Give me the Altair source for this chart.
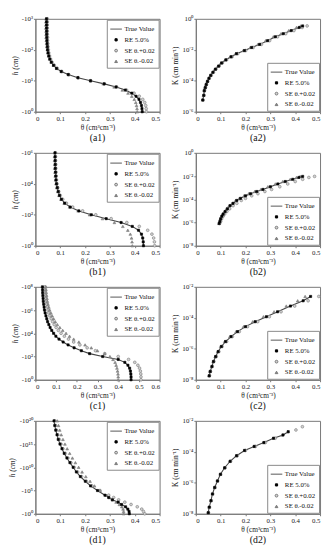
import altair as alt
import pandas as pd

TV = "True Value"
RE = "RE 5.0%"
SEP = "SE θᵣ+0.02"
SEM = "SE θᵣ-0.02"
SERIES = [TV, RE, SEP, SEM]
SHAPES = ["stroke", "square", "circle", "triangle-up"]
FILLS = ["#555555", "#000000", "#d2d2d2", "#8e8e8e"]
STROKES = ["#555555", "#000000", "#7a7a7a", "#7a7a7a"]
SIZES = [140, 5, 8, 8]

# ---------------- (a1) log10|h| levels and theta ----------------
a1_logh = [0, 0.1, 0.2, 0.3, 0.4, 0.5, 0.6, 0.7, 0.8, 0.9, 1.0, 1.1, 1.2, 1.3, 1.4, 1.5,
           1.6, 1.7, 1.8, 1.9, 2.0, 2.1, 2.2, 2.3, 2.4, 2.5, 2.6, 2.7, 2.8, 2.9, 3.0]
a1_true = [0.430, 0.429, 0.427, 0.423, 0.417, 0.405, 0.388, 0.362, 0.325, 0.277, 0.222, 0.171,
           0.132, 0.104, 0.085, 0.073, 0.064, 0.058, 0.054, 0.051, 0.049, 0.048, 0.047, 0.0465,
           0.046, 0.0457, 0.0455, 0.0453, 0.0452, 0.0451, 0.045]
a1_sep = [0.447, 0.446, 0.444, 0.44, 0.432, 0.418, 0.397, 0.367, 0.327, 0.277, 0.222, 0.172,
          0.134, 0.106, 0.088, 0.076, 0.067, 0.061, 0.057, 0.054, 0.052, 0.051, 0.05, 0.049,
          0.049, 0.048, 0.048, 0.048, 0.048, 0.048, 0.048]
a1_sem = [0.41, 0.409, 0.407, 0.404, 0.398, 0.388, 0.373, 0.35, 0.317, 0.273, 0.222, 0.173,
          0.135, 0.105, 0.086, 0.073, 0.064, 0.058, 0.053, 0.05, 0.048, 0.046, 0.045, 0.044,
          0.043, 0.043, 0.043, 0.042, 0.042, 0.042, 0.042]

# ---------------- (a2) theta and log10 K ----------------
a2_theta = [0.028, 0.032, 0.034, 0.038, 0.042, 0.047, 0.053, 0.06, 0.069, 0.079, 0.092, 0.104,
            0.121, 0.142, 0.164, 0.196, 0.225, 0.257, 0.289, 0.32, 0.352, 0.384, 0.416, 0.43]
a2_logk = [-5.24, -4.94, -4.64, -4.44, -4.24, -4.04, -3.84, -3.65, -3.45, -3.25, -3.05, -2.85,
           -2.65, -2.45, -2.25, -2.05, -1.85, -1.65, -1.41, -1.16, -0.96, -0.76, -0.56, -0.46]
a2_sep = [0.029, 0.033, 0.035, 0.039, 0.043, 0.048, 0.054, 0.062, 0.071, 0.081, 0.094, 0.107,
          0.124, 0.146, 0.169, 0.201, 0.231, 0.264, 0.297, 0.329, 0.362, 0.395, 0.428, 0.448]
a2_sem = [0.028, 0.031, 0.034, 0.037, 0.041, 0.046, 0.052, 0.059, 0.067, 0.077, 0.089, 0.101,
          0.118, 0.138, 0.16, 0.191, 0.219, 0.25, 0.281, 0.312, 0.343, 0.374, 0.405, 0.422]

# ---------------- (b1) ----------------
b1_logh = [0, 0.25, 0.5, 0.75, 1.0, 1.25, 1.5, 1.75, 2.0, 2.25, 2.5, 2.75, 3.0, 3.25, 3.5,
           3.75, 4.0, 4.25, 4.5, 4.75, 5.0, 5.25, 5.5, 5.75, 6.0]
b1_true = [0.435, 0.434, 0.432, 0.427, 0.415, 0.39, 0.345, 0.285, 0.225, 0.175, 0.14, 0.118,
           0.105, 0.097, 0.092, 0.088, 0.085, 0.083, 0.082, 0.081, 0.080, 0.0798, 0.0795,
           0.0792, 0.079]
b1_sep = [0.48, 0.479, 0.476, 0.469, 0.452, 0.418, 0.368, 0.305, 0.243, 0.19, 0.15, 0.125,
          0.11, 0.1, 0.094, 0.09, 0.087, 0.085, 0.084, 0.083, 0.082, 0.082, 0.081, 0.081, 0.081]
b1_sem = [0.39, 0.389, 0.387, 0.382, 0.372, 0.352, 0.318, 0.27, 0.218, 0.172, 0.138, 0.116,
          0.103, 0.095, 0.09, 0.086, 0.083, 0.081, 0.08, 0.079, 0.078, 0.078, 0.077, 0.077, 0.077]

# ---------------- (b2) ----------------
b2_theta = [0.094, 0.097, 0.1, 0.105, 0.11, 0.118, 0.127, 0.138, 0.15, 0.165, 0.18, 0.2, 0.22,
            0.245, 0.27, 0.3, 0.33, 0.36, 0.39, 0.415, 0.43]
b2_logk = [-6.08, -5.9, -5.68, -5.45, -5.27, -5.05, -4.82, -4.55, -4.35, -4.1, -3.92, -3.7,
           -3.52, -3.33, -3.15, -2.92, -2.68, -2.47, -2.28, -2.12, -2.03]
b2_sep = [0.096, 0.1, 0.104, 0.11, 0.116, 0.125, 0.136, 0.15, 0.165, 0.183, 0.2, 0.225, 0.25,
          0.278, 0.305, 0.338, 0.37, 0.4, 0.43, 0.455, 0.478]
b2_sem = [0.093, 0.096, 0.099, 0.103, 0.108, 0.115, 0.124, 0.134, 0.146, 0.16, 0.175, 0.194,
          0.213, 0.237, 0.262, 0.29, 0.32, 0.35, 0.38, 0.405, 0.42]

# ---------------- (c1) ----------------
c1_logh = [0, 0.25, 0.5, 0.75, 1.0, 1.25, 1.5, 1.75, 2.0, 2.25, 2.5, 2.75, 3.0, 3.25, 3.5,
           3.75, 4.0, 4.25, 4.5, 4.75, 5.0, 5.25, 5.5, 5.75, 6.0, 6.25, 6.5, 6.75, 7.0, 7.25,
           7.5, 7.75, 8.0]
c1_true = [0.462, 0.462, 0.461, 0.459, 0.455, 0.447, 0.432, 0.40, 0.325, 0.262, 0.222, 0.187,
           0.158, 0.134, 0.114, 0.099, 0.088, 0.079, 0.071, 0.065, 0.059, 0.055, 0.051, 0.047,
           0.044, 0.042, 0.040, 0.038, 0.037, 0.036, 0.035, 0.0345, 0.034]
c1_sep = [0.51, 0.51, 0.509, 0.507, 0.503, 0.495, 0.48, 0.45, 0.40, 0.335, 0.29, 0.25, 0.215,
          0.185, 0.16, 0.14, 0.124, 0.111, 0.1, 0.091, 0.083, 0.076, 0.07, 0.065, 0.061, 0.058,
          0.055, 0.053, 0.051, 0.05, 0.049, 0.048, 0.047]
c1_sem = [0.40, 0.40, 0.399, 0.397, 0.394, 0.39, 0.385, 0.375, 0.36, 0.335, 0.30, 0.27, 0.24,
          0.21, 0.185, 0.165, 0.148, 0.132, 0.118, 0.106, 0.096, 0.088, 0.081, 0.075, 0.069,
          0.065, 0.061, 0.058, 0.056, 0.054, 0.052, 0.051, 0.05]

# ---------------- (c2) ----------------
c2_theta = [0.054, 0.058, 0.065, 0.071, 0.08, 0.09, 0.103, 0.12, 0.142, 0.168, 0.2, 0.239,
            0.284, 0.329, 0.381, 0.432, 0.462]
c2_logk = [-7.74, -7.46, -7.14, -6.82, -6.5, -6.18, -5.85, -5.53, -5.21, -4.89, -4.57, -4.25,
           -3.93, -3.61, -3.24, -2.9, -2.62]
c2_sep = [0.055, 0.059, 0.066, 0.073, 0.082, 0.093, 0.106, 0.124, 0.147, 0.175, 0.208, 0.249,
          0.296, 0.343, 0.398, 0.452, 0.495]
c2_sem = [0.053, 0.057, 0.064, 0.07, 0.078, 0.088, 0.1, 0.116, 0.137, 0.162, 0.192, 0.229,
          0.272, 0.315, 0.364, 0.41, 0.44]

# ---------------- (d1) ----------------
d1_logh = [0, 0.5, 1, 1.5, 2, 2.5, 3, 3.5, 4, 5, 6, 7, 8, 9, 10, 11, 12, 13, 14, 15, 16, 17,
           18, 19, 20]
d1_true = [0.378, 0.377, 0.372, 0.363, 0.347, 0.333, 0.31, 0.295, 0.28, 0.25, 0.222, 0.201,
           0.181, 0.165, 0.152, 0.139, 0.127, 0.116, 0.107, 0.099, 0.092, 0.087, 0.082, 0.078,
           0.075]
d1_sep = [0.44, 0.435, 0.428, 0.41, 0.385, 0.36, 0.335, 0.315, 0.295, 0.26, 0.228, 0.205,
          0.186, 0.17, 0.156, 0.143, 0.131, 0.12, 0.111, 0.103, 0.096, 0.09, 0.085, 0.081, 0.078]
d1_sem = [0.355, 0.355, 0.353, 0.348, 0.338, 0.325, 0.31, 0.298, 0.285, 0.26, 0.238, 0.22,
          0.203, 0.188, 0.174, 0.161, 0.149, 0.138, 0.128, 0.119, 0.111, 0.104, 0.098, 0.093,
          0.088]

# ---------------- (d2) ----------------
d2_theta = [0.05, 0.054, 0.061, 0.067, 0.076, 0.087, 0.099, 0.116, 0.138, 0.164, 0.196, 0.235,
            0.274, 0.313, 0.351, 0.372]
d2_logk = [-7.93, -7.57, -7.15, -6.72, -6.3, -5.88, -5.45, -5.03, -4.61, -4.25, -3.91, -3.65,
           -3.4, -3.12, -2.91, -2.7]
d2_sep = [0.051, 0.055, 0.062, 0.068, 0.077, 0.088, 0.1, 0.118, 0.14, 0.167, 0.2, 0.24, 0.28,
          0.32, 0.403, 0.429]
d2_sep_logk = [-7.93, -7.57, -7.15, -6.72, -6.3, -5.88, -5.45, -5.03, -4.61, -4.25, -3.91,
               -3.65, -3.4, -3.12, -2.59, -2.38]
d2_sem = [0.05, 0.054, 0.061, 0.067, 0.076, 0.087, 0.099, 0.116, 0.137, 0.163, 0.195, 0.233,
          0.272, 0.31, 0.348, 0.37]

# ---------------- helpers ----------------
SUP = [("-", "⁻"), ("0", "⁰"), ("1", "¹"), ("2", "²"), ("3", "³"), ("4", "⁴"),
       ("5", "⁵"), ("6", "⁶"), ("7", "⁷"), ("8", "⁸"), ("9", "⁹")]
sup = "toString(datum.value)"
for a, b in SUP:
    sup = f"replace({sup},'{a}','{b}')"
NEG_LABEL = "'-10' + " + sup
POS_LABEL = "'10' + " + sup

W, H = 127, 95
XTITLE = "θ (cm³cm⁻³)"


def legend_channels(orient):
    leg = alt.Legend(orient=orient, title=None)
    return dict(
        shape=alt.Shape("series:N", scale=alt.Scale(domain=SERIES, range=SHAPES), legend=leg),
        fill=alt.Fill("series:N", scale=alt.Scale(domain=SERIES, range=FILLS), legend=leg),
        stroke=alt.Stroke("series:N", scale=alt.Scale(domain=SERIES, range=STROKES), legend=leg),
        size=alt.Size("series:N", scale=alt.Scale(type="ordinal", domain=SERIES, range=SIZES),
                      legend=leg),
    )


def xenc(xmax):
    vals = [round(i * 0.1, 1) for i in range(int(round(xmax * 10)) + 1)]
    return alt.X("theta:Q", scale=alt.Scale(domain=[0, xmax], nice=False),
                 axis=alt.Axis(values=vals, format=".1~f", title=XTITLE))


def left_panel(logh, true_t, sep_t, sem_t, xmax, ymax, yticks, label):
    line_df = pd.DataFrame({"theta": true_t, "y": logh})
    pts = pd.DataFrame({
        "theta": sep_t + sem_t + true_t,
        "y": logh + logh + logh,
        "series": [SEP] * len(logh) + [SEM] * len(logh) + [RE] * len(logh),
    })
    x = xenc(xmax)
    y = alt.Y("y:Q", scale=alt.Scale(domain=[0, ymax], nice=False, zero=False),
              axis=alt.Axis(values=yticks, labelExpr=NEG_LABEL, title="h (cm)",
                            titleFontStyle="italic"))
    line = alt.Chart(line_df).mark_line(color="#444444", strokeWidth=1.1).encode(
        x=x, y=y, order="y:Q")
    points = alt.Chart(pts).mark_point(filled=True, strokeWidth=0.6, opacity=1).encode(
        x=x, y=y, **legend_channels("top-right"))
    return alt.layer(line, points).properties(
        width=W, height=H, title=alt.TitleParams(label, orient="bottom"))


def right_panel(lt, lk, sep_t, sep_k, sem_t, sem_k, ydom, yticks, label):
    line_df = pd.DataFrame({"theta": lt, "y": lk})
    pts = pd.DataFrame({
        "theta": sep_t + sem_t + lt,
        "y": sep_k + sem_k + lk,
        "series": [SEP] * len(sep_t) + [SEM] * len(sem_t) + [RE] * len(lt),
    })
    x = xenc(0.5)
    y = alt.Y("y:Q", scale=alt.Scale(domain=ydom, nice=False, zero=False),
              axis=alt.Axis(values=yticks, labelExpr=POS_LABEL, title="K (cm min⁻¹)"))
    line = alt.Chart(line_df).mark_line(color="#444444", strokeWidth=1.1).encode(
        x=x, y=y, order="theta:Q")
    points = alt.Chart(pts).mark_point(filled=True, strokeWidth=0.6, opacity=1).encode(
        x=x, y=y, **legend_channels("bottom-right"))
    return alt.layer(line, points).properties(
        width=W, height=H, title=alt.TitleParams(label, orient="bottom"))


IND = dict(shape="independent", fill="independent", stroke="independent", size="independent")

rows = [
    alt.hconcat(
        left_panel(a1_logh, a1_true, a1_sep, a1_sem, 0.5, 3, [0, 1, 2, 3], "(a1)"),
        right_panel(a2_theta, a2_logk, a2_sep, a2_logk, a2_sem, a2_logk, [-6, 0],
                    [-6, -4, -2, 0], "(a2)"),
        spacing=11).resolve_scale(**IND),
    alt.hconcat(
        left_panel(b1_logh, b1_true, b1_sep, b1_sem, 0.5, 6, [0, 2, 4, 6], "(b1)"),
        right_panel(b2_theta, b2_logk, b2_sep, b2_logk, b2_sem, b2_logk, [-8, 0],
                    [-8, -6, -4, -2, 0], "(b2)"),
        spacing=11).resolve_scale(**IND),
    alt.hconcat(
        left_panel(c1_logh, c1_true, c1_sep, c1_sem, 0.6, 8, [0, 2, 4, 6, 8], "(c1)"),
        right_panel(c2_theta, c2_logk, c2_sep, c2_logk, c2_sem, c2_logk, [-8, -2],
                    [-8, -6, -4, -2], "(c2)"),
        spacing=11).resolve_scale(**IND),
    alt.hconcat(
        left_panel(d1_logh, d1_true, d1_sep, d1_sem, 0.5, 20, [0, 5, 10, 15, 20], "(d1)"),
        right_panel(d2_theta, d2_logk, d2_sep, d2_sep_logk, d2_sem, d2_logk, [-8, -2],
                    [-8, -6, -4, -2], "(d2)"),
        spacing=11).resolve_scale(**IND),
]

chart = alt.vconcat(*rows, spacing=5).resolve_scale(**IND).properties(
    padding={"left": 0, "top": 0, "right": 0, "bottom": 0}
).configure_axis(
    labelFont="Liberation Serif", titleFont="Liberation Serif", labelFontSize=7,
    titleFontSize=7.5, titleFontWeight="normal", labelColor="#222222", titleColor="#222222",
    grid=False, tickSize=2, tickColor="#777777", domainColor="#777777", labelPadding=1,
    titlePadding=2,
).configure_view(stroke="#777777").configure_title(
    font="Liberation Serif", fontSize=10, fontWeight="normal", color="#111111", offset=2,
).configure_legend(
    labelFont="Liberation Serif", labelFontSize=7, labelColor="#111111",
    strokeColor="#888888", fillColor="white", padding=3, rowPadding=3, offset=1,
    labelOffset=2, symbolStrokeWidth=1,
)

chart.save("out.html", embed_options={"renderer": "svg", "actions": False})
